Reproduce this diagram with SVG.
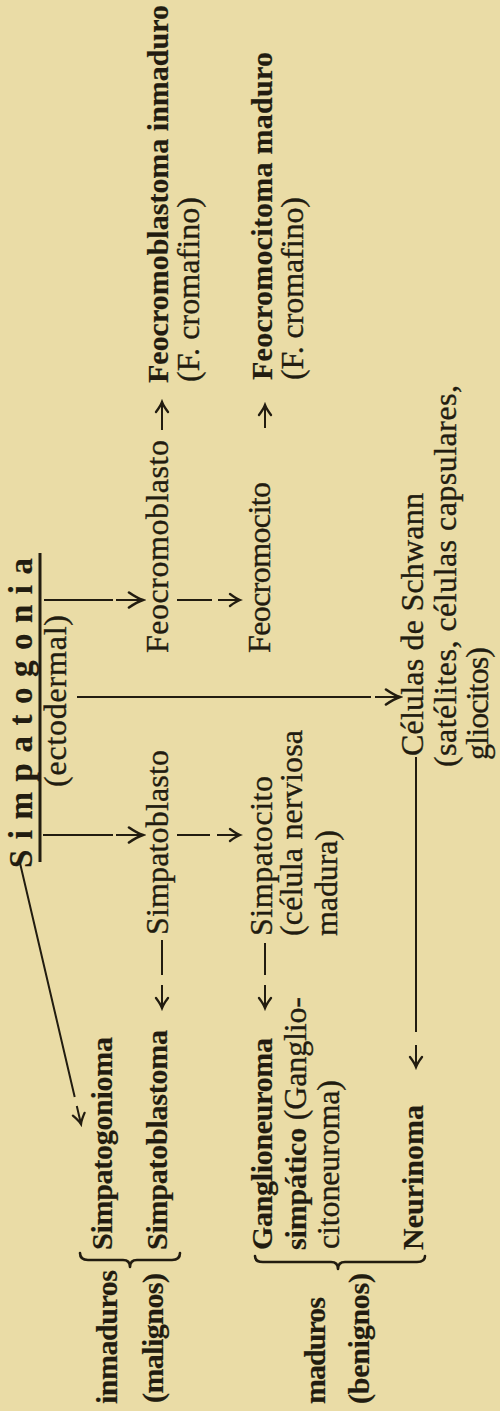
<svg xmlns="http://www.w3.org/2000/svg" width="500" height="1411" viewBox="0 0 500 1411">
<defs>
<style>
text{fill:#221c10;stroke:#221c10;stroke-width:0.35;font-family:"Liberation Serif","Times New Roman",serif;font-size:32px}
.b{font-weight:bold;font-size:30px;stroke-width:0.2}
.c{fill:none;stroke:#221c10;stroke-width:2}
.br{fill:none;stroke:#221c10;stroke-width:2.6;stroke-linecap:round;stroke-linejoin:round}
</style>
<marker id="ah" viewBox="-17 -10 20 20" markerWidth="20" markerHeight="20" refX="0" refY="0" orient="auto" markerUnits="userSpaceOnUse">
<path d="M-14,-7.5 Q-6,-2 0,0 Q-6,2 -14,7.5" fill="none" stroke="#221c10" stroke-width="2.6" stroke-linecap="round"/>
</marker>
<marker id="as" viewBox="-13 -8 16 16" markerWidth="16" markerHeight="16" refX="0" refY="0" orient="auto" markerUnits="userSpaceOnUse">
<path d="M-10,-6 Q-4,-1.5 0,0 Q-4,1.5 -10,6" fill="none" stroke="#221c10" stroke-width="2.3" stroke-linecap="round"/>
</marker>
</defs>
<rect width="500" height="1411" fill="#EADCA6"/>
<g transform="translate(0,1411) rotate(-90)">
<g id="n-simpatogonia">
<text class="b" style="font-size:33px" x="543" y="32" textLength="310" lengthAdjust="spacing">Simpatogonia</text>
<line x1="549" y1="40" x2="858" y2="40" stroke="#221c10" stroke-width="3"/>
<text x="624" y="66" textLength="172">(ectodermal)</text>
</g>
<g id="n-feocromoblasto"><text x="758" y="168" textLength="213">Feocromoblasto</text></g>
<g id="n-feocromocito"><text x="758" y="270" textLength="171">Feocromocito</text></g>
<g id="n-feocromoblastoma">
<text class="b" x="1028" y="168" textLength="378">Feocromoblastoma inmaduro</text>
<text x="1029" y="199" textLength="185">(F. cromafino)</text>
</g>
<g id="n-feocromocitoma">
<text class="b" x="1031" y="272" textLength="328">Feocromocitoma maduro</text>
<text x="1031" y="303" textLength="183">(F. cromafino)</text>
</g>
<g id="n-simpatoblasto"><text x="476" y="168" textLength="185">Simpatoblasto</text></g>
<g id="n-simpatocito">
<text x="475" y="272" textLength="160">Simpatocito</text>
<text x="475" y="302" textLength="206">(célula nerviosa</text>
<text x="475" y="337" textLength="106">madura)</text>
</g>
<g id="n-schwann">
<text x="655" y="423" textLength="263">Células de Schwann</text>
<text x="644" y="456" textLength="382">(satélites, células capsulares,</text>
<text x="651" y="488" textLength="113">gliocitos)</text>
</g>
<g id="n-simpatogonioma"><text class="b" x="161" y="112" textLength="213">Simpatogonioma</text></g>
<g id="n-simpatoblastoma"><text class="b" x="161" y="167" textLength="220">Simpatoblastoma</text></g>
<g id="n-ganglioneuroma">
<text class="b" x="161" y="272" textLength="212">Ganglioneuroma</text>
<text x="161" y="306" textLength="253"><tspan class="b">simpático</tspan> (Ganglio-</text>
<text x="162" y="339" textLength="169">citoneuroma)</text>
</g>
<g id="n-neurinoma"><text class="b" x="161" y="423" textLength="145">Neurinoma</text></g>
<g id="n-inmaduros">
<path class="br" d="M158,80 Q151,80 151,88 L151,123 Q151,130 144,130 Q151,130 151,137 L151,172 Q151,180 158,180"/>
<text class="b" x="7" y="117" textLength="134">inmaduros</text>
<text class="b" x="8" y="163" textLength="130">(malignos)</text>
</g>
<g id="n-maduros">
<path class="br" d="M155,255 Q149,255 149,263 L149,331 Q149,338 142,338 Q149,338 149,345 L149,417 Q149,425 155,425"/>
<text class="b" x="7" y="325" textLength="107">maduros</text>
<text class="b" x="7" y="369" textLength="131">(benignos)</text>
</g>
<g id="connectors">
<path class="c" d="M811,44 V113 M811,116 V143" marker-end="url(#ah)"/>
<path class="c" d="M576,43 V113 M576,116 V143" marker-end="url(#ah)"/>
<path class="c" d="M714,77 V371 M714,375 V400" marker-end="url(#ah)"/>
<path class="c" d="M811,177 V212 M811,218 V240" marker-end="url(#as)"/>
<path class="c" d="M576,177 V210 M576,217 V240" marker-end="url(#as)"/>
<path class="c" d="M981,162 H1009" marker-end="url(#as)"/>
<path class="c" d="M983,265 H1006" marker-end="url(#as)"/>
<path class="c" d="M471,162 H436 M426,162 H403" marker-end="url(#as)"/>
<path class="c" d="M468,265 H436 M426,265 H403" marker-end="url(#as)"/>
<path class="c" d="M654,416 H379 M366,416 H344" marker-end="url(#as)"/>
<path class="c" d="M548,20 L314,74.7 M305,76.8 L287,81" marker-end="url(#as)"/>
</g>
</g>
</svg>
